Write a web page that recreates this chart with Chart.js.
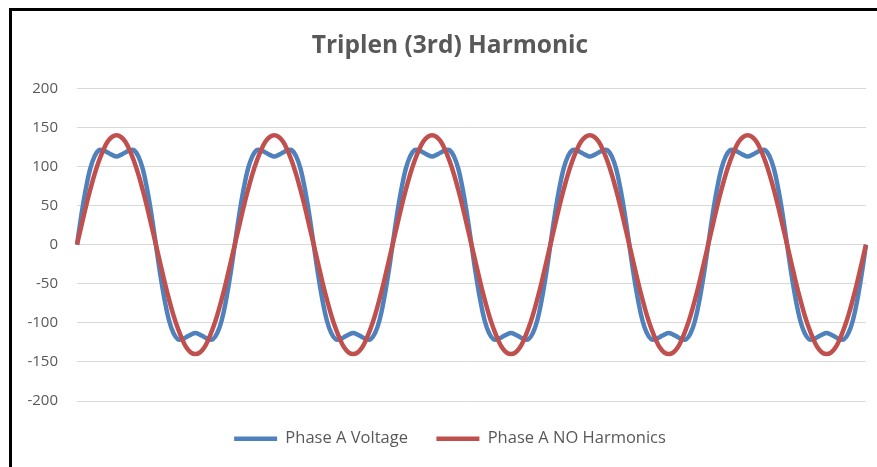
<!DOCTYPE html>
<html>
<head>
<meta charset="utf-8">
<script src="https://cdn.jsdelivr.net/npm/chart.js@4/dist/chart.umd.min.js"></script>
<style>
  html, body { margin: 0; padding: 0; background: #ffffff; overflow: hidden; width: 877px; height: 467px; }
  #frame { position: absolute; left: 9px; top: 8px; width: 900px; height: 500px;
           border-left: 3px solid #000; border-top: 3px solid #000; background: #fff; }
  #c { position: absolute; left: 0; top: 0; }
</style>
</head>
<body>
<div id="frame"><canvas id="c" width="876" height="446"></canvas></div>
<script>
// Values (one sample every 10 degrees, 5 cycles)
const phaseAVoltage = [
  0,38,71,97,113,121,121,118,115,113,115,118,121,121,113,97,71,38,0,-38,-71,-97,-113,-121,-121,-118,-115,-113,-115,-118,-121,-121,-113,-97,-71,-38,
  0,38,71,97,113,121,121,118,115,113,115,118,121,121,113,97,71,38,0,-38,-71,-97,-113,-121,-121,-118,-115,-113,-115,-118,-121,-121,-113,-97,-71,-38,
  0,38,71,97,113,121,121,118,115,113,115,118,121,121,113,97,71,38,0,-38,-71,-97,-113,-121,-121,-118,-115,-113,-115,-118,-121,-121,-113,-97,-71,-38,
  0,38,71,97,113,121,121,118,115,113,115,118,121,121,113,97,71,38,0,-38,-71,-97,-113,-121,-121,-118,-115,-113,-115,-118,-121,-121,-113,-97,-71,-38,
  0,38,71,97,113,121,121,118,115,113,115,118,121,121,113,97,71,38,0,-38,-71,-97,-113,-121,-121,-118,-115,-113,-115,-118,-121,-121,-113,-97,-71,-38,
  0
];
const phaseANoHarmonics = [
  0,24,48,70,90,107,121,132,138,140,138,132,121,107,90,70,48,24,0,-24,-48,-70,-90,-107,-121,-132,-138,-140,-138,-132,-121,-107,-90,-70,-48,-24,
  0,24,48,70,90,107,121,132,138,140,138,132,121,107,90,70,48,24,0,-24,-48,-70,-90,-107,-121,-132,-138,-140,-138,-132,-121,-107,-90,-70,-48,-24,
  0,24,48,70,90,107,121,132,138,140,138,132,121,107,90,70,48,24,0,-24,-48,-70,-90,-107,-121,-132,-138,-140,-138,-132,-121,-107,-90,-70,-48,-24,
  0,24,48,70,90,107,121,132,138,140,138,132,121,107,90,70,48,24,0,-24,-48,-70,-90,-107,-121,-132,-138,-140,-138,-132,-121,-107,-90,-70,-48,-24,
  0,24,48,70,90,107,121,132,138,140,138,132,121,107,90,70,48,24,0,-24,-48,-70,-90,-107,-121,-132,-138,-140,-138,-132,-121,-107,-90,-70,-48,-24,
  0
];
const seriesNames = ['Phase A Voltage', 'Phase A NO Harmonics'];
const yTicks = [-200, -150, -100, -50, 0, 50, 100, 150, 200];
const chartTitle = 'Triplen (3rd) Harmonic';
const sampleLabels = phaseAVoltage.map((v, i) => String(i));

const grey = '#595959';
// Title and legend are centred over the area that starts 22px from the left edge
const centreBlocks = {
  id: 'centreBlocks',
  afterLayout(chart) {
    const shift = 22;
    if (chart.titleBlock) { chart.titleBlock.left = shift; chart.titleBlock.width = chart.titleBlock.right - shift; }
    if (chart.legend) { chart.legend.left = shift; chart.legend.width = chart.legend.right - shift; }
  }
};

new Chart(document.getElementById('c'), {
  type: 'line',
  data: {
    labels: sampleLabels,
    datasets: [
      { label: seriesNames[0], data: phaseAVoltage, borderColor: '#4F81BD', backgroundColor: '#4F81BD',
        borderWidth: 4.5, pointRadius: 0, tension: 0.4, order: 1, fill: false },
      { label: seriesNames[1], data: phaseANoHarmonics, borderColor: '#C0504D', backgroundColor: '#C0504D',
        borderWidth: 4.5, pointRadius: 0, tension: 0.4, order: 0, fill: false }
    ]
  },
  plugins: [centreBlocks],
  options: {
    responsive: false,
    animation: false,
    layout: { padding: { left: 0, right: 22, top: 0, bottom: 0 } },
    plugins: {
      title: {
        display: true, text: chartTitle, color: grey,
        font: { family: 'Open Sans', size: 24.5, weight: 'bold' },
        padding: { top: 20, bottom: 28 }
      },
      legend: {
        position: 'bottom',
        labels: {
          color: grey,
          font: { family: 'Open Sans', size: 16.5 },
          usePointStyle: true, pointStyle: 'line', pointStyleWidth: 43,
          padding: 28.5,
          sort: (a, b) => a.datasetIndex - b.datasetIndex
        }
      },
      tooltip: { enabled: false }
    },
    scales: {
      x: {
        display: true,
        afterFit: (s) => { s.height = 1; },
        grid: { display: false },
        border: { display: false },
        ticks: { display: false }
      },
      y: {
        min: -200, max: 200,
        afterBuildTicks: (s) => { s.ticks = yTicks.map(v => ({ value: v })); },
        afterFit: (s) => { s.width = 65; },
        grid: { color: '#d9d9d9', lineWidth: 1, drawTicks: false },
        border: { display: false },
        ticks: { color: grey, font: { family: 'Open Sans', size: 15 }, padding: 19 }
      }
    }
  }
});
</script>
</body>
</html>
